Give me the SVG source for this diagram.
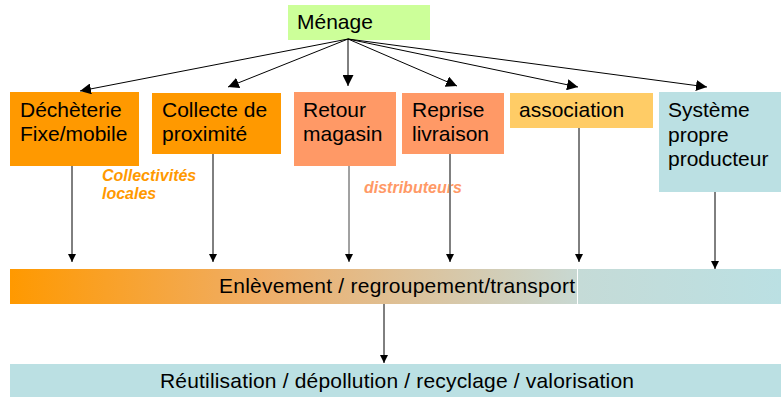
<svg xmlns="http://www.w3.org/2000/svg" width="781" height="397" viewBox="0 0 781 397">
<defs>
<marker id="ah" viewBox="0 0 10 10" refX="10" refY="5" markerWidth="8" markerHeight="8" markerUnits="userSpaceOnUse" orient="auto"><path d="M0,0 L10,5 L0,10 z" fill="#000"/></marker>
<marker id="ahs" viewBox="0 0 10 10" refX="10" refY="5" markerWidth="11" markerHeight="11" markerUnits="userSpaceOnUse" orient="auto"><path d="M0,0 L10,5 L0,10 z" fill="#000"/></marker>
<linearGradient id="g1" x1="0" y1="0" x2="1" y2="0"><stop offset="0" stop-color="#FF9900"/><stop offset="0.45" stop-color="#EFAE68"/><stop offset="1" stop-color="#C8D8D2"/></linearGradient>
<linearGradient id="g2" x1="0" y1="0" x2="1" y2="0"><stop offset="0" stop-color="#C5DBD7"/><stop offset="1" stop-color="#BBE0E3"/></linearGradient>
</defs>
<style>
text{font-family:"Liberation Sans",Arial,sans-serif;font-size:21px;fill:#000}
.lbl{font-weight:bold;font-style:italic;font-size:16px}
.c{stroke:#000;stroke-width:1;fill:none}
</style>
<rect width="781" height="397" fill="#fff"/>
<g id="menage"><rect x="288" y="5" width="142" height="35" fill="#CCFF99"/><text x="297" y="29">Ménage</text></g>
<g id="decheterie"><rect x="10" y="92" width="129" height="74" fill="#FF9900"/><text x="20" y="117">Déchèterie</text><text x="20" y="141">Fixe/mobile</text></g>
<g id="collecte"><rect x="152" y="93" width="129" height="61" fill="#FF9900"/><text x="162" y="117">Collecte de</text><text x="162" y="141">proximité</text></g>
<g id="retour"><rect x="294" y="92" width="102" height="74" fill="#FF9966"/><text x="303" y="117">Retour</text><text x="303" y="141">magasin</text></g>
<g id="reprise"><rect x="402" y="93" width="102" height="61" fill="#FF9966"/><text x="412" y="117">Reprise</text><text x="412" y="141">livraison</text></g>
<g id="association"><rect x="510" y="93" width="143" height="35" fill="#FFCC66"/><text x="519" y="117">association</text></g>
<g id="systeme"><rect x="659" y="92" width="122" height="100" fill="#BBE0E3"/><text x="668" y="117">Système</text><text x="668" y="142">propre</text><text x="668" y="166">producteur</text></g>
<g id="labels"><text class="lbl" x="102" y="181" style="fill:#FF9900">Collectivités</text><text class="lbl" x="102" y="199" style="fill:#FF9900">locales</text><text class="lbl" x="364" y="193" style="fill:#FF9966">distributeurs</text></g>
<g id="enlevement"><rect x="10" y="269" width="567" height="35" fill="url(#g1)"/><rect x="578" y="269" width="203" height="35" fill="url(#g2)"/><text x="219" y="293" textLength="356">Enlèvement / regroupement/transport</text></g>
<g id="reutilisation"><rect x="10" y="364" width="771" height="33" fill="#BBE0E3"/><text x="160" y="388" textLength="474">Réutilisation / dépollution / recyclage / valorisation</text></g>
<g id="connectors">
<line class="c" x1="348" y1="39" x2="80" y2="91" marker-end="url(#ahs)"/>
<line class="c" x1="348" y1="39" x2="228" y2="87" marker-end="url(#ahs)"/>
<line class="c" x1="348" y1="39" x2="348" y2="86" marker-end="url(#ahs)"/>
<line class="c" x1="348" y1="39" x2="457" y2="86" marker-end="url(#ahs)"/>
<line class="c" x1="348" y1="39" x2="578" y2="87" marker-end="url(#ahs)"/>
<line class="c" x1="348" y1="39" x2="707" y2="87" marker-end="url(#ahs)"/>
<line class="c" x1="72" y1="166" x2="72" y2="262" marker-end="url(#ah)"/>
<line class="c" x1="213" y1="154" x2="213" y2="262" marker-end="url(#ah)"/>
<line class="c" x1="349" y1="166" x2="349" y2="262" style="stroke:#444" marker-end="url(#ah)"/>
<line class="c" x1="450" y1="154" x2="450" y2="262" style="stroke:#808080;stroke-width:2" marker-end="url(#ah)"/>
<line class="c" x1="579" y1="128" x2="579" y2="262" marker-end="url(#ah)"/>
<line class="c" x1="715" y1="192" x2="715" y2="269" marker-end="url(#ah)"/>
<line class="c" x1="384" y1="304" x2="384" y2="363" marker-end="url(#ah)"/>
</g>
</svg>
